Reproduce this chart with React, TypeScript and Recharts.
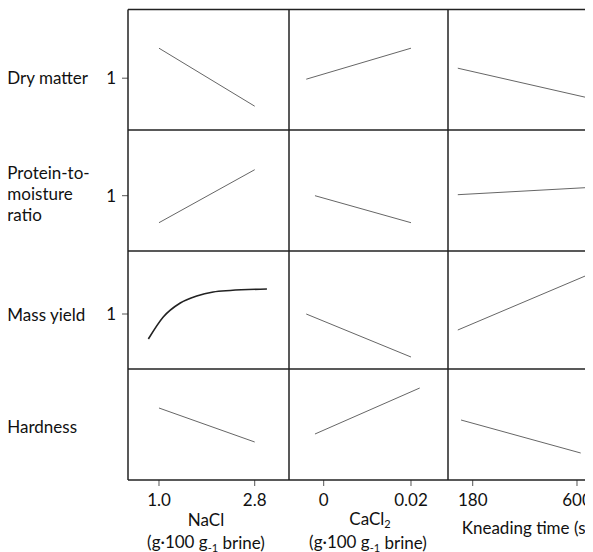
import React from "react";
import { LineChart, Line, XAxis, YAxis } from "recharts";

// Tick labels
const NACL_TICKS = [1.0, 2.8];
const CACL2_TICKS = [0, 0.02];
const TIME_TICKS = [180, 600];

// Dry matter
const dryNaClX = [1.0, 2.8];
const dryNaClY = [1.3, 0.72];
const dryCaClX = [-0.004, 0.02];
const dryCaClY = [0.99, 1.3];
const dryTimeX = [120, 633];
const dryTimeY = [1.1, 0.81];

// Protein-to-moisture ratio
const pmNaClX = [1.0, 2.8];
const pmNaClY = [0.73, 1.26];
const pmCaClX = [-0.002, 0.02];
const pmCaClY = [1.0, 0.73];
const pmTimeX = [120, 633];
const pmTimeY = [1.01, 1.08];

// Mass yield
const myNaClX = [0.8, 1.08, 1.4, 1.71, 2.02, 2.34, 3.03];
const myNaClY = [0.75, 0.97, 1.11, 1.18, 1.22, 1.235, 1.25];
const myCaClX = [-0.004, 0.02];
const myCaClY = [1.0, 0.57];
const myTimeX = [120, 633];
const myTimeY = [0.84, 1.38];

// Hardness
const hdNaClX = [1.0, 2.8];
const hdNaClY = [1.16, 0.82];
const hdCaClX = [-0.002, 0.022];
const hdCaClY = [0.9, 1.36];
const hdTimeX = [133, 615];
const hdTimeY = [1.04, 0.71];

const FONT = "Lato, 'Open Sans', sans-serif";
const FS = 17;

// layout (container coords)
const COLS = [
  { left: 120, w: 161, domain: [0.417, 3.445], ticks: NACL_TICKS, fmt: (v: number) => v.toFixed(1) },
  { left: 281, w: 159, domain: [-0.00795, 0.02848], ticks: CACL2_TICKS, fmt: (v: number) => String(v) },
  { left: 440, w: 145, domain: [80.5, 664.5], ticks: TIME_TICKS, fmt: (v: number) => String(v) },
];
const ROWS = [
  { top: 1.5, h: 120.5, domain: [0.477, 1.682] },
  { top: 122, h: 121, domain: [0.447, 1.657] },
  { top: 243, h: 118, domain: [0.45, 1.63] },
  { top: 361, h: 111, domain: [0.44, 1.55] },
];

const PANELS = [
  [[dryNaClX, dryNaClY], [dryCaClX, dryCaClY], [dryTimeX, dryTimeY]],
  [[pmNaClX, pmNaClY], [pmCaClX, pmCaClY], [pmTimeX, pmTimeY]],
  [[myNaClX, myNaClY], [myCaClX, myCaClY], [myTimeX, myTimeY]],
  [[hdNaClX, hdNaClY], [hdCaClX, hdCaClY], [hdTimeX, hdTimeY]],
];

function Panel({ r, c }: { r: number; c: number }) {
  const col = COLS[c];
  const row = ROWS[r];
  const [xs, ys] = PANELS[r][c];
  const data = xs.map((x, i) => ({ x, y: ys[i] }));
  const yTick = c === 0 && r < 3;
  const xTicks = r === 3;
  const curve = r === 2 && c === 0;
  const ml = yTick ? 40 : 0;
  const mb = xTicks ? 70 : 0;
  return (
    <div style={{ position: "absolute", left: col.left - ml, top: row.top }}>
      <LineChart width={col.w + ml} height={row.h + mb} data={data} margin={{ top: 0, right: 0, bottom: 0, left: 0 }}>
        <XAxis
          type="number"
          dataKey="x"
          domain={col.domain}
          allowDataOverflow
          hide={!xTicks}
          ticks={col.ticks}
          interval={0}
          tickFormatter={col.fmt}
          height={mb || 30}
          tickSize={6}
          tickMargin={8}
          axisLine={false}
          tickLine={{ stroke: "#555" }}
          tick={{ fill: "#111", fontSize: FS, fontFamily: FONT }}
        />
        <YAxis
          type="number"
          domain={row.domain}
          allowDataOverflow
          hide={!yTick}
          ticks={[1]}
          width={ml || 40}
          tickSize={6}
          tickMargin={6}
          axisLine={false}
          tickLine={{ stroke: "#555" }}
          tick={{ fill: "#111", fontSize: FS, fontFamily: FONT }}
        />
        <Line
          dataKey="y"
          type={curve ? "monotone" : "linear"}
          stroke={curve ? "#222" : "#666"}
          strokeWidth={curve ? 1.6 : 1}
          dot={false}
          activeDot={false}
          isAnimationActive={false}
        />
      </LineChart>
    </div>
  );
}

export default function App() {
  const gridTop = ROWS[0].top;
  const gridBottom = ROWS[3].top + ROWS[3].h;
  const hLines = [gridTop, ROWS[1].top, ROWS[2].top, ROWS[3].top, gridBottom];
  const vLines = [COLS[0].left, COLS[1].left, COLS[2].left];
  const cells = [];
  for (let r = 0; r < 4; r++) for (let c = 0; c < 3; c++) cells.push(<Panel key={`${r}-${c}`} r={r} c={c} />);
  return (
    <div style={{ position: "relative", width: 585, height: 544, overflow: "hidden", background: "#fff", fontFamily: FONT }}>
      {cells}
      <svg width={585} height={544} style={{ position: "absolute", left: 0, top: 0, pointerEvents: "none" }}>
        {hLines.map((y, i) => (
          <line key={`h${i}`} x1={COLS[0].left} x2={585} y1={y} y2={y} stroke="#222" strokeWidth={1.5} />
        ))}
        {vLines.map((x, i) => (
          <line key={`v${i}`} x1={x} x2={x} y1={gridTop} y2={gridBottom} stroke="#222" strokeWidth={1.5} />
        ))}
        <g fontFamily={FONT} fontSize={FS} fill="#111">
          <text x={-0.7} y={69} dominantBaseline="central">Dry matter</text>
          <text x={-0.7} y={164.5} dominantBaseline="central">Protein-to-</text>
          <text x={-0.7} y={185.5} dominantBaseline="central">moisture</text>
          <text x={-0.7} y={206.5} dominantBaseline="central">ratio</text>
          <text x={-0.7} y={306} dominantBaseline="central">Mass yield</text>
          <text x={-0.7} y={418.7} dominantBaseline="central">Hardness</text>

          <text x={198} y={511} textAnchor="middle" dominantBaseline="central">NaCl</text>
          <text x={198} y={533.5} textAnchor="middle" dominantBaseline="central">
            (g·100 g<tspan fontSize={11} dy={5}>-1</tspan><tspan dy={-5}> brine)</tspan>
          </text>
          <text x={362} y={510} textAnchor="middle" dominantBaseline="central">
            CaCl<tspan fontSize={11} dy={5}>2</tspan>
          </text>
          <text x={360} y={533.5} textAnchor="middle" dominantBaseline="central">
            (g·100 g<tspan fontSize={11} dy={5}>-1</tspan><tspan dy={-5}> brine)</tspan>
          </text>
          <text x={453.7} y={519} dominantBaseline="central">Kneading time (s)</text>
        </g>
      </svg>
    </div>
  );
}
